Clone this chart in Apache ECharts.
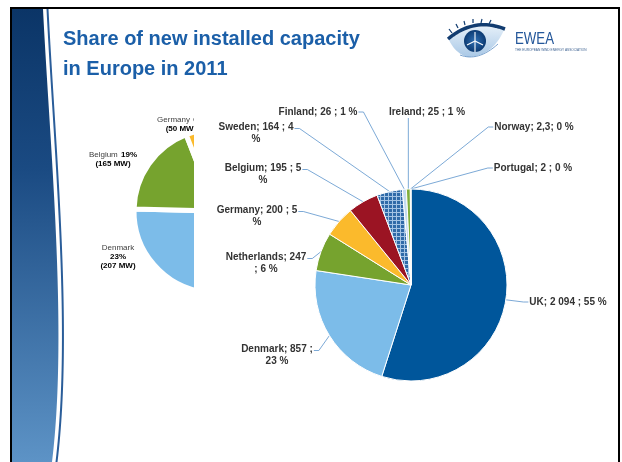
<!DOCTYPE html>
<html>
<head>
<meta charset="utf-8">
<title>Share of new installed capacity in Europe in 2011</title>
<script src="https://cdn.jsdelivr.net/npm/echarts@6.0.0/dist/echarts.min.js"></script>
<style>
  html, body { margin: 0; padding: 0; background: #ffffff; }
  #chart { width: 622px; height: 462px; }
</style>
</head>
<body>
<div id="chart"></div>
<script>
// Cumulative offshore wind capacity by country, end of 2011 (MW)
const countries = ['UK', 'Denmark', 'Netherlands', 'Germany', 'Belgium', 'Sweden', 'Finland', 'Ireland', 'Norway', 'Portugal'];
const capacityMW = [2094, 857, 247, 200, 195, 164, 26, 25, 2.3, 2];
const sharePct = [55, 23, 6, 5, 5, 4, 1, 1, 0, 0];

// Offshore installations of the previous year (MW); only part of this pie is visible
const prevCountries = ['UK', 'Denmark', 'Belgium', 'Germany', 'Finland'];
const prevMW = [458, 207, 165, 50, 2.3];

// ---- styling ----
const FONT = "'Liberation Sans', Arial, sans-serif";

function checkerTile() {
  const c = document.createElement('canvas');
  c.width = 4; c.height = 4;
  const g = c.getContext('2d');
  g.fillStyle = '#2f6aa8'; g.fillRect(0, 0, 4, 4);
  g.fillStyle = '#a3c3e4'; g.fillRect(0, 0, 4, 1); g.fillRect(0, 0, 1, 4);
  return c;
}

const sliceColors = {
  UK: '#00569b', Denmark: '#7cbce9', Netherlands: '#76a32e', Germany: '#fbba2c',
  Belgium: '#9b1423', Sweden: { image: checkerTile(), repeat: 'repeat' },
  Finland: '#c3dbf1', Ireland: '#7fae3c', Norway: '#2e6aa8', Portugal: '#7fae3c'
};
const prevColors = { UK: '#00569b', Denmark: '#7cbce9', Belgium: '#76a32e', Germany: '#fbba2c', Finland: '#c3dbf1' };

// label block centre, side the leader line attaches to, and where the text wraps
const mainLabelBox = {
  UK:          { c: [568, 302], side: 'left',   br: 'none' },
  Denmark:     { c: [277, 355], side: 'right',  br: 'after' },
  Netherlands: { c: [266, 263], side: 'right',  br: 'before' },
  Germany:     { c: [257, 216], side: 'right',  br: 'pct' },
  Belgium:     { c: [263, 174], side: 'right',  br: 'pct' },
  Sweden:      { c: [256, 133], side: 'right',  br: 'pct' },
  Finland:     { c: [318, 112], side: 'right',  br: 'none' },
  Ireland:     { c: [427, 112], side: 'bottom', br: 'none' },
  Norway:      { c: [534, 127], side: 'left',   br: 'tight' },
  Portugal:    { c: [533, 168], side: 'left',   br: 'none' }
};
const prevLabelBox = {
  Denmark: { c: [118, 257], stack: true },
  Belgium: { c: [113, 159], stack: false },
  Germany: { c: [181, 124], stack: false }
};

function fmtMW(v) {
  return String(v).replace('.', ',').replace(/\B(?=(\d{3})+(?!\d))/g, ' ');
}

function mainLabel(p) {
  const box = mainLabelBox[p.name];
  const v = fmtMW(p.value), s = sharePct[p.dataIndex];
  switch (box.br) {
    case 'pct':    return p.name + '; ' + v + ' ; ' + s + '\n%';
    case 'before': return p.name + '; ' + v + '\n; ' + s + ' %';
    case 'after':  return p.name + '; ' + v + ' ;\n' + s + ' %';
    case 'tight':  return p.name + '; ' + v + '; ' + s + ' %';
    default:       return p.name + '; ' + v + ' ; ' + s + ' %';
  }
}

function mainLabelLayout(p) {
  const box = mainLabelBox[countries[p.dataIndex]];
  const w = p.labelRect.width, h = p.labelRect.height;
  const cx = box.c[0], cy = box.c[1];
  const top = cy - h / 2;
  const ay = top + Math.min(h / 2, 7.5);
  const p0 = p.labelLinePoints ? p.labelLinePoints[0] : [cx, cy];
  let anchor, bend;
  if (box.side === 'right') {
    anchor = [cx + w / 2 + 1, ay]; bend = [anchor[0] + 5, ay];
  } else if (box.side === 'left') {
    anchor = [cx - w / 2 - 1, ay]; bend = [anchor[0] - 5, ay];
  } else {
    anchor = [p0[0], cy + h / 2]; bend = anchor.slice();
  }
  return {
    x: cx, y: cy, align: 'center', verticalAlign: 'middle',
    labelLinePoints: [p0, bend, anchor]
  };
}

function prevLabel(p) {
  const pct = Math.round(p.percent) + '%';
  const box = prevLabelBox[p.name];
  if (!box) return '';
  return box.stack
    ? '{n|' + p.name + '}\n{b|' + pct + '}\n{b|(' + p.value + ' MW)}'
    : '{n|' + p.name + '} {b|' + pct + '}\n{b|(' + p.value + ' MW)}';
}

function prevLabelLayout(p) {
  const box = prevLabelBox[prevCountries[p.dataIndex]];
  if (!box) return { x: -100, y: -100 };
  return { x: box.c[0], y: box.c[1], align: 'center', verticalAlign: 'middle' };
}

// ---- curve helpers for the slide decoration ----
function cubic(p0, p1, p2, p3, n) {
  const out = [];
  for (let i = 0; i <= n; i++) {
    const t = i / n, u = 1 - t;
    out.push([
      u * u * u * p0[0] + 3 * u * u * t * p1[0] + 3 * u * t * t * p2[0] + t * t * t * p3[0],
      u * u * u * p0[1] + 3 * u * u * t * p1[1] + 3 * u * t * t * p2[1] + t * t * t * p3[1]
    ]);
  }
  return out;
}
function quad(p0, p1, p2, n) {
  const out = [];
  for (let i = 0; i <= n; i++) {
    const t = i / n, u = 1 - t;
    out.push([
      u * u * p0[0] + 2 * u * t * p1[0] + t * t * p2[0],
      u * u * p0[1] + 2 * u * t * p1[1] + t * t * p2[1]
    ]);
  }
  return out;
}
function shift(pts, dx) { return pts.map(p => [p[0] + dx, p[1]]); }

const bandEdge = cubic([43, 9], [50, 150], [68, 330], [52, 462], 60);
const eyeOutline = quad([449, 40], [474, 20], [504, 30], 16)
  .concat(quad([504, 30], [492, 57], [467, 57], 16))
  .concat(quad([467, 57], [455, 53], [449, 40], 10));

function seg(x1, y1, x2, y2, color, w) {
  return { type: 'line', z: 0, shape: { x1: x1, y1: y1, x2: x2, y2: y2 }, style: { stroke: color, lineWidth: w } };
}
const lashes = [[452, 33, 449, 29], [458, 28, 456, 24], [465, 25, 464, 21], [473, 23, 473, 19], [481, 23, 482, 19], [489, 24, 491, 20]]
  .map(s => seg(s[0], s[1], s[2], s[3], '#123c70', 1.2));
const blades = [[475, 41, 475, 32], [475, 41, 483, 45], [475, 41, 467, 45], [475, 41, 475, 52]]
  .map(s => seg(s[0], s[1], s[2], s[3], '#ffffff', 1.1));

const chart = echarts.init(document.getElementById('chart'), null, { renderer: 'canvas' });

chart.setOption({
  animation: false,
  backgroundColor: '#ffffff',
  graphic: {
    elements: [
      // slide side band
      {
        type: 'polygon', z: 0,
        shape: { points: [[12, 9]].concat(bandEdge, [[12, 462]]) },
        style: {
          fill: {
            type: 'linear', x: 0, y: 0, x2: 0, y2: 1,
            colorStops: [
              { offset: 0, color: '#0b3567' },
              { offset: 0.35, color: '#1a4a82' },
              { offset: 1, color: '#5d93c6' }
            ]
          }
        }
      },
      {
        type: 'polyline', z: 0,
        shape: { points: shift(bandEdge, 4.5) },
        style: { fill: null, stroke: '#2a5d99', lineWidth: 2 }
      },
      // slide frame
      {
        type: 'rect', z: 0,
        shape: { x: 11, y: 8, width: 608, height: 470 },
        style: { fill: null, stroke: '#000000', lineWidth: 2 }
      },
      // title
      {
        type: 'text', z: 0, x: 63, y: 39,
        style: { text: 'Share of new installed capacity', font: 'bold 20px ' + FONT, fill: '#1b5fa8', verticalAlign: 'middle' }
      },
      {
        type: 'text', z: 0, x: 63, y: 69,
        style: { text: 'in Europe in 2011', font: 'bold 20px ' + FONT, fill: '#1b5fa8', verticalAlign: 'middle' }
      },
      // association logo
      {
        type: 'polygon', z: 0,
        shape: { points: eyeOutline },
        style: {
          fill: {
            type: 'linear', x: 0, y: 0, x2: 0, y2: 1,
            colorStops: [{ offset: 0, color: '#e3eef8' }, { offset: 1, color: '#a9c8e6' }]
          }
        }
      },
      {
        type: 'circle', z: 0,
        shape: { cx: 475, cy: 41, r: 11 },
        style: {
          fill: {
            type: 'radial', x: 0.5, y: 0.5, r: 0.5,
            colorStops: [{ offset: 0, color: '#2f6fb3' }, { offset: 1, color: '#0c3a72' }]
          }
        }
      }
    ].concat(blades, [
      {
        type: 'polyline', z: 0,
        shape: { points: quad([448, 39], [474, 17], [505, 29], 20) },
        style: { fill: null, stroke: '#123c70', lineWidth: 3.5 }
      },
      {
        type: 'polyline', z: 0,
        shape: { points: quad([460, 55], [478, 62], [498, 44], 16) },
        style: { fill: null, stroke: '#7aa3cf', lineWidth: 1 }
      }
    ], lashes, [
      {
        type: 'text', z: 0, x: 515, y: 39, scaleX: 0.78,
        style: { text: 'EWEA', font: '17px ' + FONT, fill: '#24579a', verticalAlign: 'middle' }
      },
      {
        type: 'text', z: 0, x: 515, y: 50, scaleX: 0.8,
        style: { text: 'THE EUROPEAN WIND ENERGY ASSOCIATION', font: '4px ' + FONT, fill: '#3a5f8f', verticalAlign: 'middle' }
      },
      // chart area of the main pie sits over the previous-year pie
      {
        type: 'rect', z: 2,
        shape: { x: 194, y: 95, width: 423, height: 300 },
        style: { fill: '#ffffff' }
      }
    ])
  },
  series: [
    {
      // slices separated by a wide white border, like an exploded pie
      type: 'pie',
      z: 1,
      center: [216, 211],
      radius: 82,
      startAngle: 90,
      clockwise: true,
      avoidLabelOverlap: false,
      itemStyle: { borderColor: '#ffffff', borderWidth: 5 },
      emphasis: { disabled: true },
      label: {
        show: true,
        position: 'outside',
        formatter: prevLabel,
        lineHeight: 9,
        rich: {
          n: { fontFamily: FONT, fontSize: 8, color: '#404040', lineHeight: 9 },
          b: { fontFamily: FONT, fontSize: 8, fontWeight: 'bold', color: '#000000', lineHeight: 9 }
        }
      },
      labelLine: { show: false },
      labelLayout: prevLabelLayout,
      data: prevCountries.map((name, i) => ({
        name: name, value: prevMW[i],
        itemStyle: { color: prevColors[name] }
      }))
    },
    {
      type: 'pie',
      z: 3,
      center: [411, 285],
      radius: 96,
      startAngle: 90,
      clockwise: true,
      avoidLabelOverlap: false,
      itemStyle: { borderColor: '#ffffff', borderWidth: 1 },
      emphasis: { disabled: true },
      label: {
        show: true,
        position: 'outside',
        formatter: mainLabel,
        fontFamily: FONT,
        fontSize: 10,
        fontWeight: 'bold',
        color: '#333333',
        lineHeight: 12,
        align: 'center'
      },
      labelLine: { show: true, smooth: false, lineStyle: { color: '#5b93cb', width: 0.8 } },
      labelLayout: mainLabelLayout,
      data: countries.map((name, i) => ({
        name: name, value: capacityMW[i],
        itemStyle: { color: sliceColors[name] }
      }))
    }
  ]
});
</script>
</body>
</html>
